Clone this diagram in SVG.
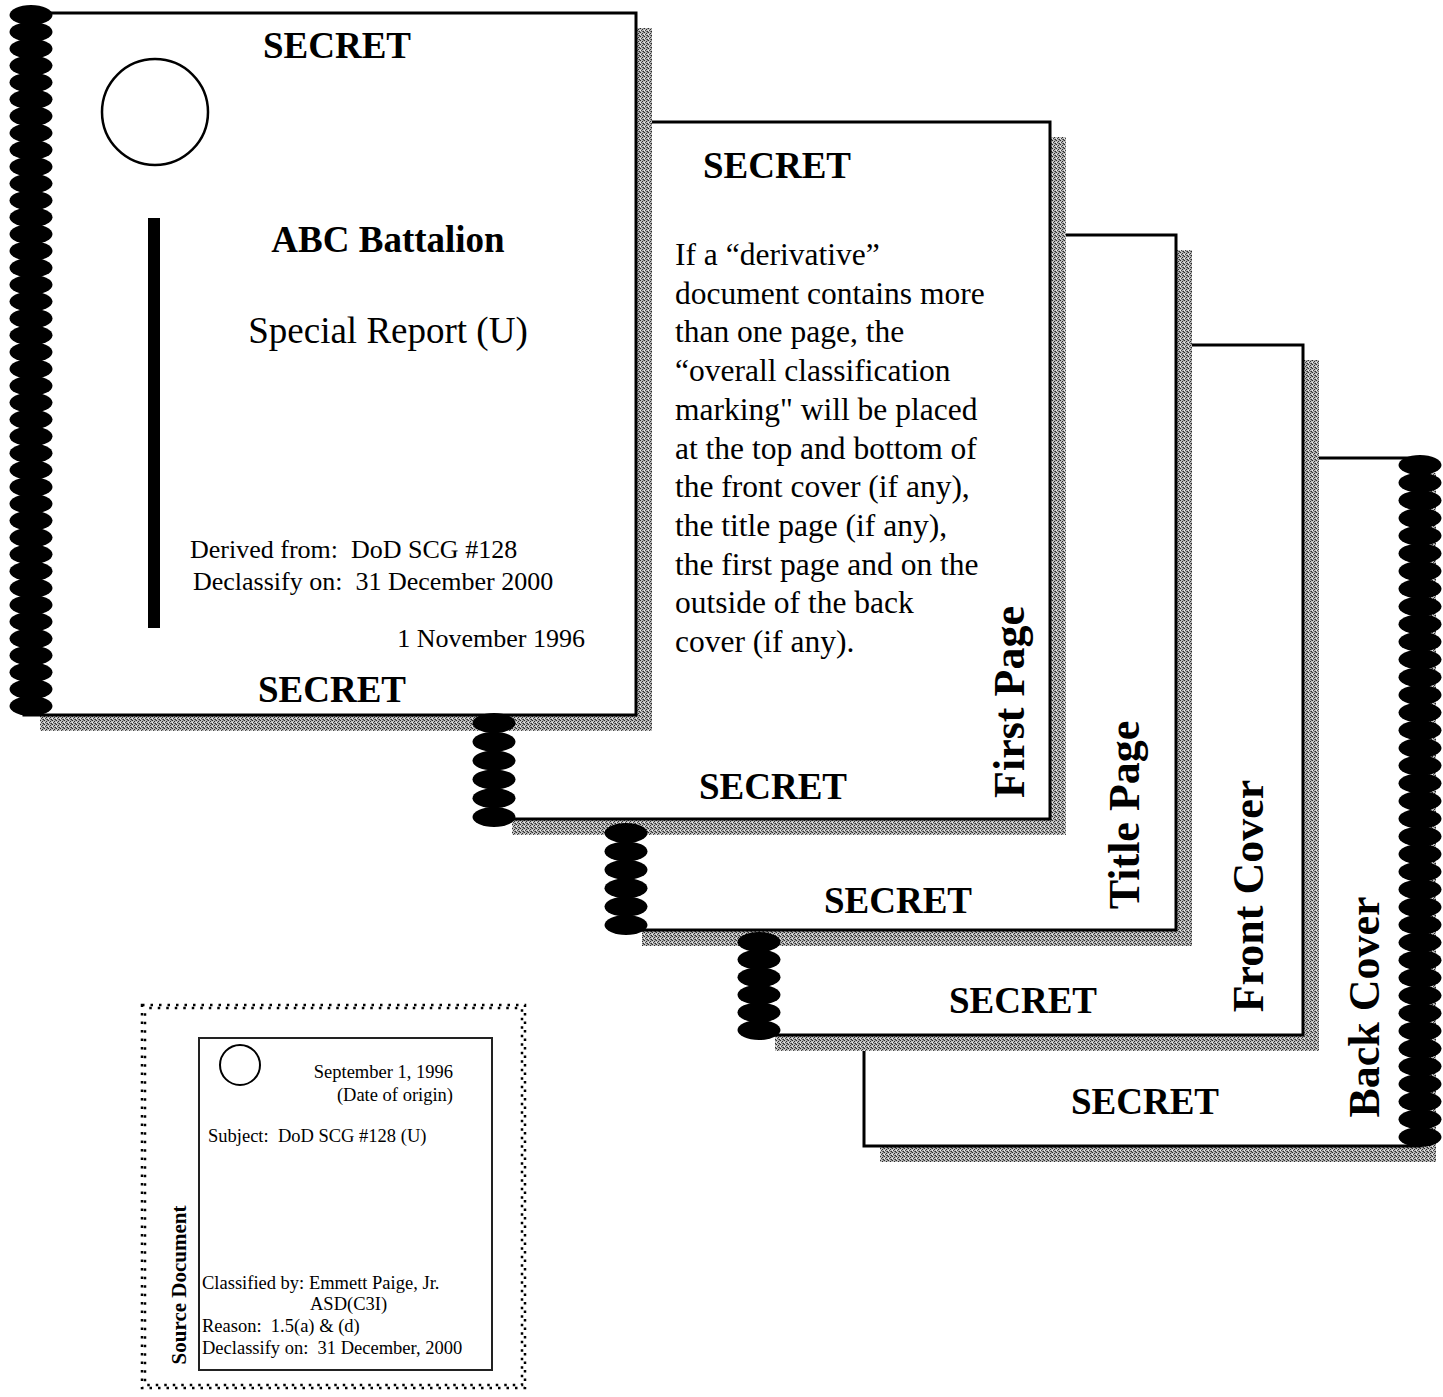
<svg xmlns="http://www.w3.org/2000/svg" width="1443" height="1397" viewBox="0 0 1443 1397">
<style>
text{font-family:"Liberation Serif","Times New Roman",serif;fill:#000;white-space:pre}
.sec{font-size:37px;font-weight:bold;text-anchor:middle}
.lab{font-size:44px;font-weight:bold;text-anchor:middle}
.para{font-size:31.5px}
.small{font-size:26px}
.src{font-size:18.5px}
.page{fill:#fff;stroke:#000;stroke-width:3}
.shadow{fill:url(#dither)}
.ring{fill:#000}
.dots{fill:none;stroke:#000;stroke-width:2.5;stroke-dasharray:2.5 6}
</style>
<defs>
<pattern id="dither" width="4" height="4" patternUnits="userSpaceOnUse">
<rect width="4" height="4" fill="#bcbcbc"/>
<rect x="0" y="0" width="1" height="1" fill="#2a2a2a"/>
<rect x="2" y="1" width="1" height="1" fill="#2a2a2a"/>
<rect x="1" y="2" width="1" height="1" fill="#444"/>
<rect x="3" y="3" width="1" height="1" fill="#2a2a2a"/>
<rect x="2" y="3" width="1" height="1" fill="#707070"/>
<rect x="3" y="0" width="1" height="1" fill="#808080"/>
<rect x="0" y="2" width="1" height="1" fill="#eeeeee"/>
</pattern>
<ellipse id="r" cx="0" cy="0" rx="21.5" ry="10" class="ring"/>
</defs>
<rect width="1443" height="1397" fill="#fff"/>

<g id="back-cover">
<rect class="shadow" x="880" y="473" width="556" height="689"/>
<rect class="page" x="864" y="458" width="556" height="688"/>
<text class="sec" x="1145" y="1114">SECRET</text>
<text class="lab" transform="translate(1379,1007) rotate(-90)">Back Cover</text>
<g id="back-cover-spiral">
<use href="#r" x="1420" y="465"/><use href="#r" x="1420" y="482.7"/><use href="#r" x="1420" y="500.4"/><use href="#r" x="1420" y="518.1"/><use href="#r" x="1420" y="535.7"/><use href="#r" x="1420" y="553.4"/><use href="#r" x="1420" y="571.1"/><use href="#r" x="1420" y="588.8"/><use href="#r" x="1420" y="606.5"/><use href="#r" x="1420" y="624.2"/><use href="#r" x="1420" y="641.8"/><use href="#r" x="1420" y="659.5"/><use href="#r" x="1420" y="677.2"/><use href="#r" x="1420" y="694.9"/><use href="#r" x="1420" y="712.6"/><use href="#r" x="1420" y="730.3"/><use href="#r" x="1420" y="748"/><use href="#r" x="1420" y="765.6"/><use href="#r" x="1420" y="783.3"/><use href="#r" x="1420" y="801"/><use href="#r" x="1420" y="818.7"/><use href="#r" x="1420" y="836.4"/><use href="#r" x="1420" y="854.1"/><use href="#r" x="1420" y="871.7"/><use href="#r" x="1420" y="889.4"/><use href="#r" x="1420" y="907.1"/><use href="#r" x="1420" y="924.8"/><use href="#r" x="1420" y="942.5"/><use href="#r" x="1420" y="960.2"/><use href="#r" x="1420" y="977.8"/><use href="#r" x="1420" y="995.5"/><use href="#r" x="1420" y="1013.2"/><use href="#r" x="1420" y="1030.9"/><use href="#r" x="1420" y="1048.6"/><use href="#r" x="1420" y="1066.3"/><use href="#r" x="1420" y="1084"/><use href="#r" x="1420" y="1101.6"/><use href="#r" x="1420" y="1119.3"/><use href="#r" x="1420" y="1137"/>
</g>
</g>

<g id="front-cover">
<rect class="shadow" x="775" y="360" width="544" height="691"/>
<rect class="page" x="759" y="345" width="544" height="690"/>
<text class="sec" x="1023" y="1013">SECRET</text>
<text class="lab" transform="translate(1263,896) rotate(-90)">Front Cover</text>
</g>

<g id="title-page">
<rect class="shadow" x="642" y="250" width="550" height="696"/>
<rect class="page" x="626" y="235" width="550" height="695"/>
<text class="sec" x="898" y="913">SECRET</text>
<text class="lab" transform="translate(1139,815) rotate(-90)">Title Page</text>
</g>

<g id="first-page">
<rect class="shadow" x="512" y="137" width="554" height="698"/>
<rect class="page" x="496" y="122" width="554" height="697"/>
<text class="sec" x="777" y="178">SECRET</text>
<g class="para">
<text x="675" y="265">If a “derivative”</text>
<text x="675" y="303.7">document contains more</text>
<text x="675" y="342.4">than one page, the</text>
<text x="675" y="381.1">“overall classification</text>
<text x="675" y="419.8">marking" will be placed</text>
<text x="675" y="458.5">at the top and bottom of</text>
<text x="675" y="497.2">the front cover (if any),</text>
<text x="675" y="535.9">the title page (if any),</text>
<text x="675" y="574.6">the first page and on the</text>
<text x="675" y="613.3">outside of the back</text>
<text x="675" y="652">cover (if any).</text>
</g>
<text class="sec" x="773" y="799">SECRET</text>
<text class="lab" transform="translate(1024,702) rotate(-90)">First Page</text>
</g>

<g id="cover-sheet">
<rect class="shadow" x="40" y="28" width="612" height="703"/>
<rect class="page" x="24" y="13" width="612" height="702"/>
<text class="sec" x="337" y="58">SECRET</text>
<circle cx="155" cy="112" r="53" fill="none" stroke="#000" stroke-width="2.5"/>
<rect x="148" y="218" width="12" height="410" fill="#000"/>
<text x="388" y="252" style="font-size:37px;font-weight:bold;text-anchor:middle">ABC Battalion</text>
<text x="388" y="343" style="font-size:37px;text-anchor:middle">Special Report (U)</text>
<text class="small" x="190" y="558">Derived from:  DoD SCG #128</text>
<text class="small" x="193" y="590">Declassify on:  31 December 2000</text>
<text class="small" x="585" y="647" text-anchor="end">1 November 1996</text>
<text class="sec" x="332" y="702">SECRET</text>
</g>

<g id="bindings">
<g id="cover-spiral">
<use href="#r" x="31" y="15"/><use href="#r" x="31" y="31.9"/><use href="#r" x="31" y="48.7"/><use href="#r" x="31" y="65.6"/><use href="#r" x="31" y="82.4"/><use href="#r" x="31" y="99.3"/><use href="#r" x="31" y="116.1"/><use href="#r" x="31" y="133"/><use href="#r" x="31" y="149.8"/><use href="#r" x="31" y="166.7"/><use href="#r" x="31" y="183.5"/><use href="#r" x="31" y="200.4"/><use href="#r" x="31" y="217.2"/><use href="#r" x="31" y="234.1"/><use href="#r" x="31" y="250.9"/><use href="#r" x="31" y="267.8"/><use href="#r" x="31" y="284.7"/><use href="#r" x="31" y="301.5"/><use href="#r" x="31" y="318.4"/><use href="#r" x="31" y="335.2"/><use href="#r" x="31" y="352.1"/><use href="#r" x="31" y="368.9"/><use href="#r" x="31" y="385.8"/><use href="#r" x="31" y="402.6"/><use href="#r" x="31" y="419.5"/><use href="#r" x="31" y="436.3"/><use href="#r" x="31" y="453.2"/><use href="#r" x="31" y="470"/><use href="#r" x="31" y="486.9"/><use href="#r" x="31" y="503.8"/><use href="#r" x="31" y="520.6"/><use href="#r" x="31" y="537.5"/><use href="#r" x="31" y="554.3"/><use href="#r" x="31" y="571.2"/><use href="#r" x="31" y="588"/><use href="#r" x="31" y="604.9"/><use href="#r" x="31" y="621.7"/><use href="#r" x="31" y="638.6"/><use href="#r" x="31" y="655.4"/><use href="#r" x="31" y="672.3"/><use href="#r" x="31" y="689.1"/><use href="#r" x="31" y="706"/>
</g>
<g id="first-page-spiral">
<use href="#r" x="494" y="723"/><use href="#r" x="494" y="741.8"/><use href="#r" x="494" y="760.6"/><use href="#r" x="494" y="779.4"/><use href="#r" x="494" y="798.2"/><use href="#r" x="494" y="817"/>
</g>
<g id="title-page-spiral">
<use href="#r" x="626" y="833"/><use href="#r" x="626" y="851.4"/><use href="#r" x="626" y="869.8"/><use href="#r" x="626" y="888.2"/><use href="#r" x="626" y="906.6"/><use href="#r" x="626" y="925"/>
</g>
<g id="front-cover-spiral">
<use href="#r" x="759" y="942"/><use href="#r" x="759" y="959.6"/><use href="#r" x="759" y="977.2"/><use href="#r" x="759" y="994.8"/><use href="#r" x="759" y="1012.4"/><use href="#r" x="759" y="1030"/>
</g>
</g>

<g id="source-document">
<rect class="dots" x="142" y="1005" width="383" height="383"/>
<rect class="dots" x="145" y="1008" width="377" height="377" stroke-dashoffset="4.25"/>
<rect x="199" y="1038" width="293" height="332" fill="#fff" stroke="#222" stroke-width="2"/>
<circle cx="240" cy="1065" r="20" fill="none" stroke="#000" stroke-width="2"/>
<text class="src" x="453" y="1078" text-anchor="end">September 1, 1996</text>
<text class="src" x="453" y="1101" text-anchor="end">(Date of origin)</text>
<text class="src" x="208" y="1142">Subject:  DoD SCG #128 (U)</text>
<text class="src" x="202" y="1289">Classified by: Emmett Paige, Jr.</text>
<text class="src" x="310" y="1310">ASD(C3I)</text>
<text class="src" x="202" y="1332">Reason:  1.5(a) &amp; (d)</text>
<text class="src" x="202" y="1354">Declassify on:  31 December, 2000</text>
<text transform="translate(186,1285) rotate(-90)" style="font-size:21px;font-weight:bold;text-anchor:middle">Source Document</text>
</g>
</svg>
